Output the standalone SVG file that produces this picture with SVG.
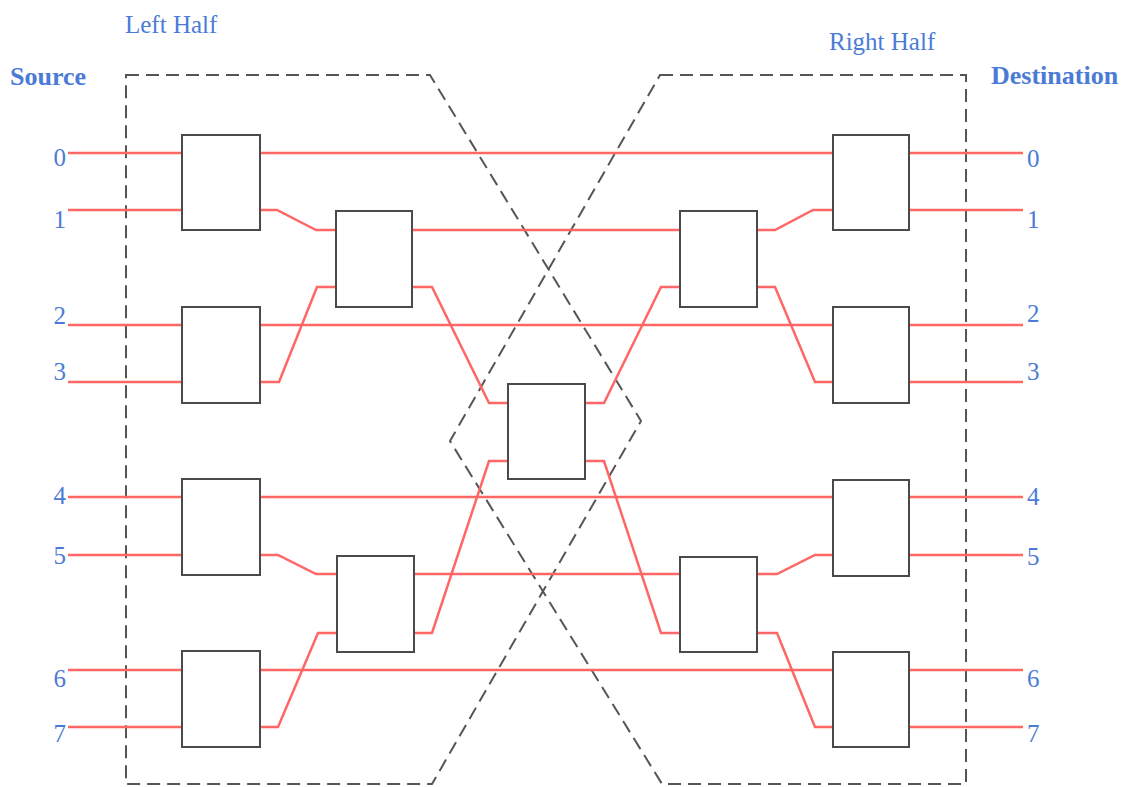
<svg xmlns="http://www.w3.org/2000/svg" width="1124" height="787" viewBox="0 0 1124 787">
<style>
.lbl{font-family:"Liberation Serif","Times New Roman",serif;fill:#4b7bd6;font-size:25px}
.b{font-weight:bold;font-size:26px}
.box{fill:#ffffff;stroke:#4a4a4a;stroke-width:2}
.w{fill:none;stroke:#ff6666;stroke-width:2.5;stroke-linejoin:miter}
.half{fill:none;stroke:#555555;stroke-width:2;stroke-dasharray:13,7}
</style>
<rect width="1124" height="787" fill="#ffffff"/>
<g id="outlines">
<polygon class="half" points="126,75 430,75 641,421 432,784 126,784"/>
<polygon class="half" points="660,75 966,75 966,784 662,784 450,441"/>
</g>
<g id="connectors">
<path class="w" d="M68,153H182M260,153H833M909,153H1023"/>
<path class="w" d="M68,210H182M260,210H277L316,230H336M412,230H680M757,230H775L813,210H833M909,210H1023"/>
<path class="w" d="M68,325H182M260,325H833M909,325H1023"/>
<path class="w" d="M68,382H182M260,382H279L317,287H336M412,287H432L489,403H508M585,403H604L661,287H680M757,287H775L815,382H833M909,382H1023"/>
<path class="w" d="M68,497H182M260,497H833M909,497H1023"/>
<path class="w" d="M68,555H182M260,555H278L316,574H336M414,574H680M757,574H777L815,555H833M909,555H1023"/>
<path class="w" d="M68,670H182M260,670H833M909,670H1023"/>
<path class="w" d="M68,727H182M260,727H278L318,633H336M414,633H432L489,461H508M585,461H604L661,633H680M757,633H777L815,727H833M909,727H1023"/>
</g>
<g id="L1a"><rect class="box" x="182" y="135" width="78" height="95"/></g>
<g id="L1b"><rect class="box" x="182" y="307" width="78" height="96"/></g>
<g id="L1c"><rect class="box" x="182" y="479" width="78" height="96"/></g>
<g id="L1d"><rect class="box" x="182" y="651" width="78" height="96"/></g>
<g id="L2a"><rect class="box" x="336" y="211" width="76" height="96"/></g>
<g id="L2b"><rect class="box" x="337" y="556" width="77" height="96"/></g>
<g id="mid"><rect class="box" x="508" y="384" width="77" height="95"/></g>
<g id="R2a"><rect class="box" x="680" y="211" width="77" height="96"/></g>
<g id="R2b"><rect class="box" x="680" y="557" width="77" height="95"/></g>
<g id="R1a"><rect class="box" x="833" y="135" width="76" height="95"/></g>
<g id="R1b"><rect class="box" x="833" y="307" width="76" height="96"/></g>
<g id="R1c"><rect class="box" x="833" y="480" width="76" height="96"/></g>
<g id="R1d"><rect class="box" x="833" y="652" width="76" height="95"/></g>
<g id="labels">
<text class="lbl" x="125" y="33">Left Half</text>
<text class="lbl" x="829" y="50">Right Half</text>
<text class="lbl b" x="10" y="85">Source</text>
<text class="lbl b" x="991" y="84">Destination</text>
<g text-anchor="end">
<text class="lbl" x="66" y="166">0</text>
<text class="lbl" x="66" y="228">1</text>
<text class="lbl" x="66" y="324">2</text>
<text class="lbl" x="66" y="380">3</text>
<text class="lbl" x="66" y="504">4</text>
<text class="lbl" x="66" y="564">5</text>
<text class="lbl" x="66" y="687">6</text>
<text class="lbl" x="66" y="742">7</text>
</g>
<text class="lbl" x="1027" y="167">0</text>
<text class="lbl" x="1027" y="228">1</text>
<text class="lbl" x="1027" y="322">2</text>
<text class="lbl" x="1027" y="380">3</text>
<text class="lbl" x="1027" y="505">4</text>
<text class="lbl" x="1027" y="565">5</text>
<text class="lbl" x="1027" y="687">6</text>
<text class="lbl" x="1027" y="742">7</text>
</g>
</svg>
